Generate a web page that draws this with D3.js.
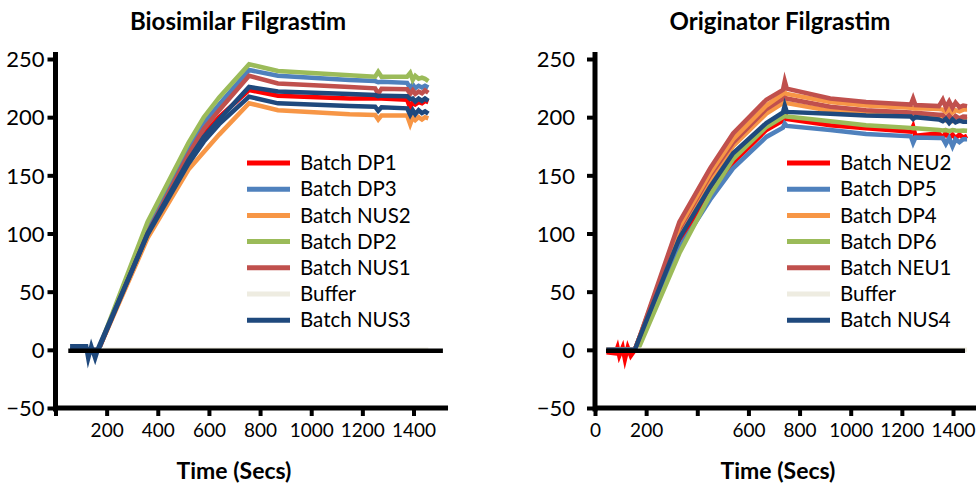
<!DOCTYPE html>
<html>
<head>
<meta charset="utf-8">
<script src="https://cdn.jsdelivr.net/npm/d3@7"></script>
<style>
  body { margin: 0; background: #fff; }
  svg text { font-family: Lato, "Open Sans", sans-serif; fill: #000; }
</style>
</head>
<body>
<svg id="chart" width="976" height="485"></svg>
<script>
// tiempos (s) del panel izquierdo
const leftTimes = [57, 120, 128, 140, 155, 168, 360, 520, 580, 640, 757, 870, 1150, 1250, 1262, 1275, 1375, 1387, 1397, 1407, 1420, 1433, 1445, 1458];

const dp1  = [0, 0, 0, 0, 0, 0, 102, 165, 185, 200, 223.3, 218.4, 216, 216.2, 216, 216, 215, 208, 213, 211, 213, 212, 214, 213];
const dp3  = [0, 0, 0, 0, 0, 0, 104, 174, 195, 211, 240.5, 235.6, 232, 231, 230, 230.5, 229.5, 225, 228, 225, 227, 225.5, 227, 225.5];
const nus2 = [0, 0, 0, 0, 0, 0, 96, 155, 170, 185, 212, 206, 202.5, 201.8, 198, 201.5, 201.4, 194, 200, 197.5, 200, 198, 200, 199];
const dp2  = [0, 0, 0, 0, 0, 0, 110, 178, 200, 217, 245.5, 239.7, 236, 234.8, 239, 234.8, 234.8, 238, 232, 235.5, 233, 234, 233, 231];
const nus1 = [0, 0, 0, 0, 0, 0, 100, 168, 190, 206, 235.6, 229, 226, 224.8, 220, 224.5, 224, 220, 223, 220, 222, 220.5, 223, 221];
const buffer1 = [0, 0, 0, 0, 0, 0, 0, 0, 0, 0, 0, 0, 0, 0, 0, 0, 0, 0, 0, 0, 0, 0, 0, 0];
const nus3 = [3, 3, -7, 3, -7, 2, 99, 160, 179, 194, 217.6, 211.9, 209.5, 209, 205.5, 208.5, 207.6, 202, 206, 202.5, 206, 203.5, 205, 203];
const nus3b = [0, 0, 0, 0, 0, 0, 100, 163, 183, 198, 226, 222, 220, 219, 218, 218.5, 218, 215.5, 216, 213.5, 216, 214, 216, 214];

// tiempos (s) del panel derecho
const rightTimes = [45, 80, 88, 95, 108, 117, 128, 140, 156, 168, 330, 450, 540, 670, 735, 742, 750, 920, 1060, 1235, 1244, 1253, 1345, 1360, 1372, 1385, 1398, 1410, 1425, 1440, 1455];

const neu2 = [-2, -3, 2, -5, 2, -8, 2, -5, 0, 7, 92, 136, 161, 189, 197, 205, 198.5, 193, 190.4, 187.5, 192, 184, 186, 182, 187, 182, 185, 182, 185, 182.5, 184];
const dp5  = [0, 0, 0, 0, 0, 0, 0, 0, 0, 7, 88, 129, 156, 183, 191, 194.5, 192.5, 189, 185.5, 183.5, 178, 182.5, 182, 182, 177, 182, 175, 181, 178.5, 181, 181];
const dp4  = [0, 0, 0, 0, 0, 0, 0, 0, 0, 7, 106, 152, 181, 210, 220, 221, 220, 213, 210, 208, 207.5, 207.6, 207, 206.5, 204.5, 207, 204, 206, 205, 206.5, 206.6];
const dp6  = [0, 0, 0, 0, 0, 0, 0, 0, 0, 0, 83, 133, 164, 191.6, 200, 201, 200.5, 196.5, 193, 190.8, 190.4, 190.4, 189, 188.5, 189, 188, 189, 188.5, 188.3, 188.5, 188.3];
const neu1 = [0, 0, 0, 0, 0, 0, 0, 0, 0, 7, 110, 156, 186, 215, 223.5, 231, 224.5, 216, 213, 210.8, 216, 210.4, 209.5, 215, 208.5, 213.5, 208, 212.5, 208.5, 210, 209.5];
const buffer2 = [0, 0, 0, 0, 0, 0, 0, 0, 0, 0, 0, 0, 0, 0, 0, 0, 0, 0, 0, 0, 0, 0, 0, 0, 0, 0, 0, 0, 0, 0, 0];
const nus4 = [0, 0, 0, 0, 0, 0, 0, 0, 0, 7, 96, 140, 169, 195, 204, 210, 204.5, 203, 201.5, 200.5, 198.5, 200, 198, 196.5, 198.5, 195, 198, 195.5, 197, 196, 196];
const neu1b = [0, 0, 0, 0, 0, 0, 0, 0, 0, 7, 104, 150, 178, 207, 216, 217.6, 216, 209, 206, 204, 203.5, 203.8, 202, 202, 199, 202, 198, 201, 199, 200.5, 200.4];
const dp4b = [0, 0, 0, 0, 0, 0, 0, 0, 0, 7, 100, 146, 175, 203, 212, 213, 212, 205.5, 203, 201.5, 201, 201, 200.5, 200, 197.5, 200, 197, 199, 198, 198.5, 198];

const yTicks = [-50, 0, 50, 100, 150, 200, 250];
const xTicks = [0, 200, 400, 600, 800, 1000, 1200, 1400];
const leftXLabels = ['', '200', '400', '600', '800', '1000', '1200', '1400'];
const rightXLabels = ['0', '200', '', '600', '800', '1000', '1200', '1400'];

const colores = {
    rojo: '#FF0000', azul: '#4F81BD', naranja: '#F79646', verde: '#9BBB59',
    granate: '#C0504D', beige: '#EEECE1', marino: '#1F497D'
};

// orden de dibujo = orden de la lista; legend:false no sale en la leyenda
const leftSeries = [
    { name: 'Batch DP1', values: dp1, color: colores.rojo },
    { name: 'Batch DP3', values: dp3, color: colores.azul },
    { name: 'Batch NUS2', values: nus2, color: colores.naranja },
    { name: 'Batch DP2', values: dp2, color: colores.verde },
    { name: 'Batch NUS1', values: nus1, color: colores.granate },
    { name: 'Buffer', values: buffer1, color: colores.beige },
    { name: 'Batch NUS3', values: nus3b, color: colores.marino, legend: false },
    { name: 'Batch NUS3', values: nus3, color: colores.marino }
];

const rightSeries = [
    { name: 'Batch DP4', values: dp4b, color: colores.naranja, legend: false },
    { name: 'Batch NEU1', values: neu1b, color: colores.granate, legend: false },
    { name: 'Batch NEU2', values: neu2, color: colores.rojo },
    { name: 'Batch DP5', values: dp5, color: colores.azul },
    { name: 'Batch DP4', values: dp4, color: colores.naranja },
    { name: 'Batch DP6', values: dp6, color: colores.verde },
    { name: 'Batch NEU1', values: neu1, color: colores.granate },
    { name: 'Buffer', values: buffer2, color: colores.beige },
    { name: 'Batch NUS4', values: nus4, color: colores.marino }
];

const svg = d3.select('#chart');

function panel(cfg) {
    let g = svg.append('g');

    let x = d3.scaleLinear().domain([0, 1400]).range([cfg.x0, cfg.x0 + 358]);
    let y = d3.scaleLinear().domain([-50, 250]).range([408, 59]);

    // titulo
    g.append('text')
        .attr('x', cfg.titleX).attr('y', 30)
        .attr('text-anchor', 'middle')
        .style('font-size', '24px').style('font-weight', 'bold')
        .text(cfg.title);

    g.append('text')
        .attr('x', cfg.labelX).attr('y', 479)
        .attr('text-anchor', 'middle')
        .style('font-size', '23px').style('font-weight', 'bold')
        .text('Time (Secs)');

    // ejes
    let yAxis = g.append('g')
        .attr('transform', 'translate(' + x(0) + ',0)')
        .call(d3.axisLeft(y).tickValues(yTicks).tickSize(8).tickSizeOuter(0).tickPadding(cfg.yPad));
    yAxis.select('.domain').remove();
    yAxis.selectAll('line').attr('stroke', '#000').attr('stroke-width', 4);
    yAxis.selectAll('text').style('font-size', '22px').attr('dy', '0.35em');

    let xAxis = g.append('g')
        .attr('transform', 'translate(0,' + y(-50) + ')')
        .call(d3.axisBottom(x).tickValues(xTicks).tickSize(8).tickSizeOuter(0)
            .tickFormat((d, i) => cfg.xLabels[i]).tickPadding(8));
    xAxis.select('.domain').remove();
    xAxis.selectAll('line').attr('stroke', '#000').attr('stroke-width', 4);
    xAxis.selectAll('text').style('font-size', '19px');

    g.append('line')
        .attr('x1', x(0)).attr('x2', x(0))
        .attr('y1', y(256)).attr('y2', y(-53))
        .attr('stroke', '#000').attr('stroke-width', 5);
    g.append('line')
        .attr('x1', x(-8)).attr('x2', x(cfg.axisMax))
        .attr('y1', y(-50)).attr('y2', y(-50))
        .attr('stroke', '#000').attr('stroke-width', 5);

    let line = d3.line()
        .x((d, i) => x(cfg.times[i]))
        .y(d => y(d));

    g.selectAll('.serie')
        .data(cfg.series)
        .join('path')
        .attr('class', 'serie')
        .attr('d', d => line(d.values))
        .attr('fill', 'none')
        .attr('stroke', d => d.color)
        .attr('stroke-width', 4.5)
        .attr('stroke-linejoin', 'miter')
        .attr('stroke-miterlimit', 6);

    // linea de cero, encima de las series
    g.append('line')
        .attr('x1', x(cfg.zeroSpan[0])).attr('x2', x(cfg.zeroSpan[1]))
        .attr('y1', y(0) + 1).attr('y2', y(0) + 1)
        .attr('stroke', '#000').attr('stroke-width', 4.5);

    // leyenda
    let items = cfg.series.filter(d => d.legend !== false);
    let order = cfg.legendOrder.map(n => items.find(d => d.name === n));
    let legend = g.selectAll('.legend-item')
        .data(order)
        .join('g')
        .attr('class', 'legend-item')
        .attr('transform', (d, i) => 'translate(' + cfg.legendX + ',' + (163 + i * 26.2) + ')');

    legend.append('line')
        .attr('x1', 0).attr('x2', 43)
        .attr('stroke', d => d.color)
        .attr('stroke-width', 5);

    legend.append('text')
        .attr('x', 53).attr('dy', '0.35em')
        .style('font-size', '20.5px')
        .text(d => d.name);
}

panel({
    x0: 55.5, title: 'Biosimilar Filgrastim', titleX: 238, labelX: 234,
    times: leftTimes, series: leftSeries, xLabels: leftXLabels,
    axisMax: 1535, zeroSpan: [50, 1515], legendX: 247, yPad: 3,
    legendOrder: ['Batch DP1', 'Batch DP3', 'Batch NUS2', 'Batch DP2', 'Batch NUS1', 'Buffer', 'Batch NUS3']
});

panel({
    x0: 595, title: 'Originator Filgrastim', titleX: 780, labelX: 778,
    times: rightTimes, series: rightSeries, xLabels: rightXLabels,
    axisMax: 1520, zeroSpan: [43, 1447], legendX: 787, yPad: 12,
    legendOrder: ['Batch NEU2', 'Batch DP5', 'Batch DP4', 'Batch DP6', 'Batch NEU1', 'Buffer', 'Batch NUS4']
});
</script>
</body>
</html>
